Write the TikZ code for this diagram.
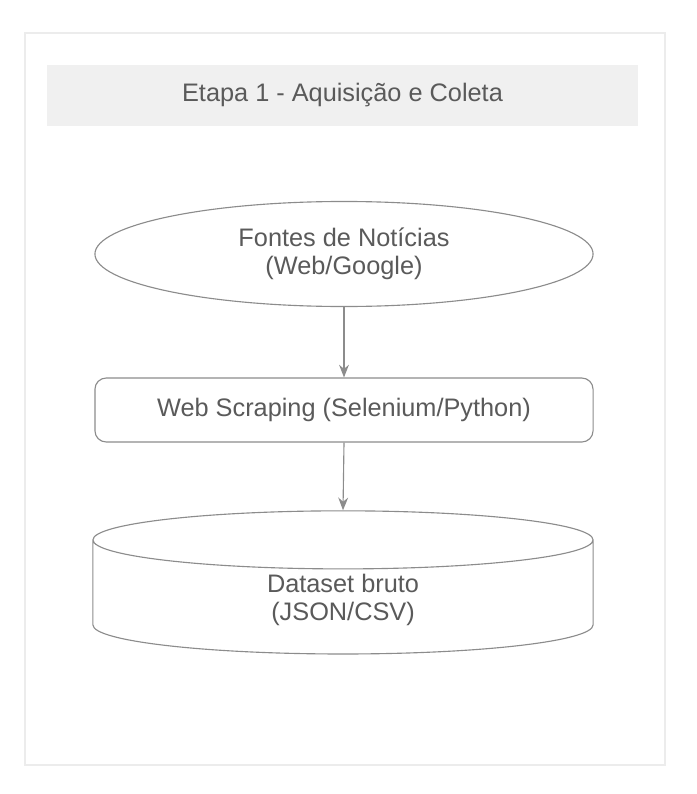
\documentclass[tikz,border=0pt]{standalone}
\usepackage{fontspec}
\setmainfont{Liberation Sans}
\usetikzlibrary{shapes.geometric,arrows.meta}
\definecolor{bandgray}{RGB}{240,240,240}
\definecolor{framegray}{RGB}{236,236,236}
\definecolor{linegray}{RGB}{140,140,140}
\definecolor{textgray}{RGB}{90,90,90}

\begin{document}
\begin{tikzpicture}[x=0.025cm, y=-0.025cm,
  every node/.style={text=textgray, font=\fontsize{18}{20}\selectfont, align=center},
  box/.style={draw=linegray, line width=0.8pt, fill=white},
  flow/.style={draw=linegray, line width=0.8pt, -{Stealth[length=9pt,width=7pt]}}]
  % Page frame
  \useasboundingbox (0,0) rectangle (696,794);
  \draw[framegray, line width=1.2pt] (25,33) rectangle (665,765);

  % Title band
  \node[fill=bandgray, minimum width=14.775cm, minimum height=1.525cm] (title) at (342.5,95.5) {Etapa 1 - Aquisição e Coleta};

  % Source
  \node[box, ellipse, minimum width=12.45cm, minimum height=2.625cm] (src) at (344,254) {Fontes de Notícias\\(Web/Google)};

  % Scraping
  \node[box, rounded corners=8pt, minimum width=12.45cm, minimum height=1.6cm] (scrape) at (344,410) {Web Scraping (Selenium/Python)};

  % Raw dataset
  \node[box, cylinder, shape border rotate=90, aspect=0.36, minimum width=12.5cm, minimum height=3.375cm] (data) at (343,600) {Dataset bruto\\(JSON/CSV)};

  % Arrows
  \draw[flow] (src.south) -- (scrape.north);
  \draw[flow] (scrape.south) -- (data.north);
\end{tikzpicture}
\end{document}
